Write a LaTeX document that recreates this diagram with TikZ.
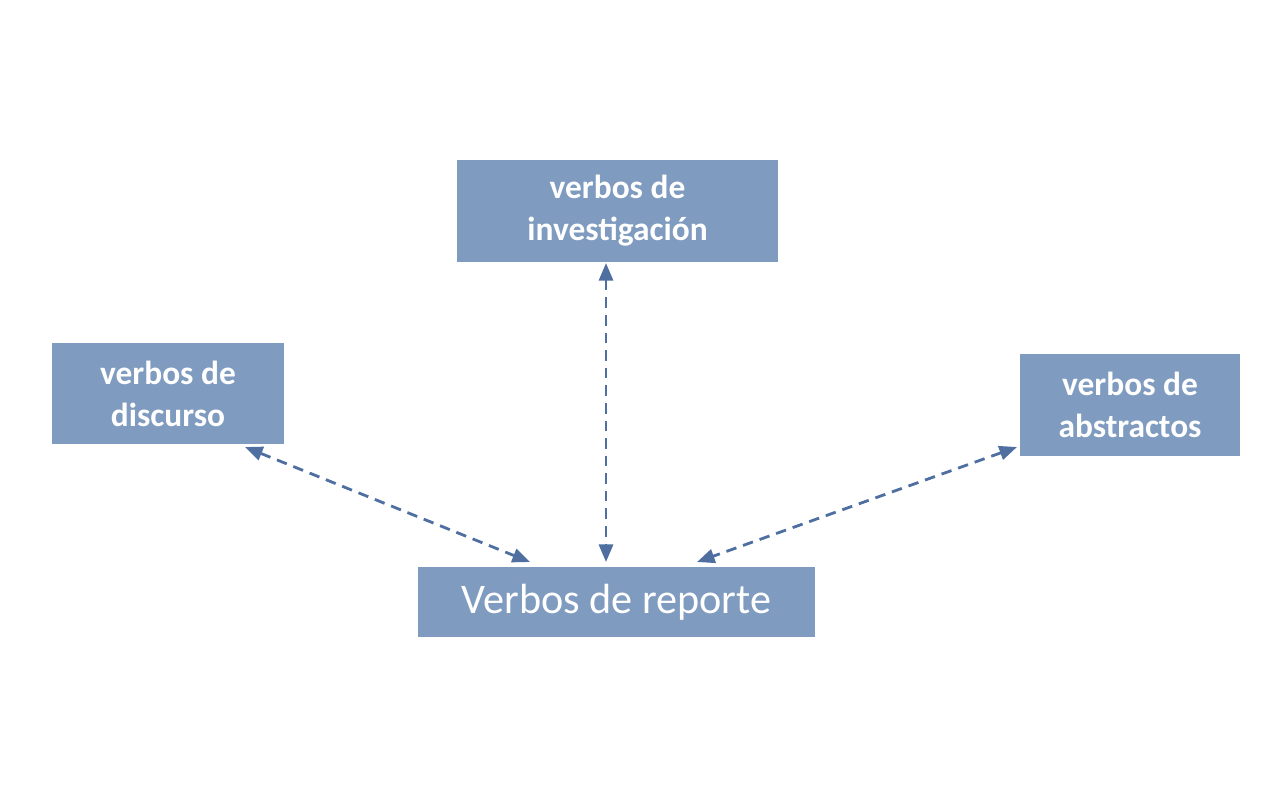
\documentclass[tikz,border=0pt]{standalone}
\usepackage{fontspec}
\setmainfont{Carlito}
\usetikzlibrary{arrows.meta}
\definecolor{boxblue}{HTML}{7F9BBF}
\definecolor{linkblue}{HTML}{4F6FA0}
\begin{document}
\begin{tikzpicture}[x=0.01cm, y=-0.01cm]

\useasboundingbox (0,0) rectangle (1280,800);

%% styles
\tikzstyle{kind}=[rectangle, fill=boxblue, text=white, font=\bfseries\fontsize{9.5}{12}\selectfont, align=center, inner sep=0pt]
\tikzstyle{link}=[densely dashed, linkblue, thick, {Triangle[length=5pt,width=4pt]}-{Triangle[length=5pt,width=4pt]}]

% boxes
\node[kind, minimum width=3.21cm, minimum height=1.02cm] (inv) at (617.5,211) {verbos de\\investigación};
\node[kind, minimum width=2.32cm, minimum height=1.01cm] (dis) at (168,393.5) {verbos de\\discurso};
\node[kind, minimum width=2.20cm, minimum height=1.02cm] (abs) at (1130,405) {verbos de\\abstractos};
\node[kind, minimum width=3.97cm, minimum height=0.70cm, font=\fontsize{12}{14}\selectfont] (rep) at (616.5,602) {Verbos de reporte};

% arrow ends
\coordinate (inv-e) at (606,263);
\coordinate (rep-t) at (606,562);
\coordinate (dis-e) at (245,447);
\coordinate (rep-l) at (530,562);
\coordinate (abs-e) at (1017,447);
\coordinate (rep-r) at (697,562);

\draw[link] (inv-e) -- (rep-t);
\draw[link] (dis-e) -- (rep-l);
\draw[link] (abs-e) -- (rep-r);

\end{tikzpicture}
\end{document}
